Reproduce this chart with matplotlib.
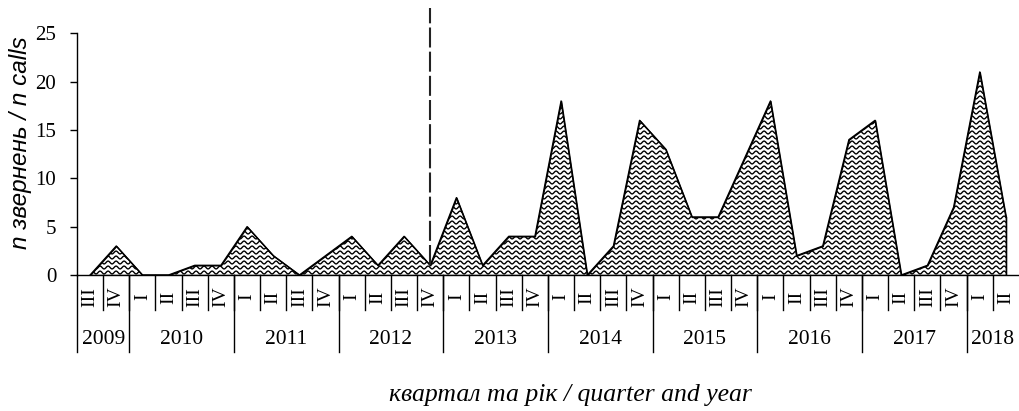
import matplotlib
matplotlib.use("Agg")
import matplotlib.pyplot as plt
import numpy as np
from matplotlib.collections import LineCollection
import matplotlib.transforms as mtransforms

# quarters 2009 III .. 2018 II
quarters = ['III', 'IV'] + ['I', 'II', 'III', 'IV'] * 8 + ['I', 'II']
years = ['2009', '2010', '2011', '2012', '2013', '2014', '2015', '2016', '2017', '2018']
year_counts = [2, 4, 4, 4, 4, 4, 4, 4, 4, 2]
calls = [0, 3,
         0, 0, 1, 1,
         5, 2, 0, 2,
         4, 1, 4, 1,
         8, 1, 4, 4,
         18, 0, 3, 16,
         13, 6, 6, 12,
         18, 2, 3, 14,
         16, 0, 1, 7,
         21, 6]
split_index = 13  # 2012 IV

plt.rcParams['font.family'] = ['Liberation Serif', 'DejaVu Serif']

fig = plt.figure(figsize=(10.2, 4.11), dpi=100)
ax = fig.add_axes([77 / 1020, 136 / 411, 942 / 1020, 241.7 / 411])

x = np.arange(len(calls))
ax.set_xlim(-0.5, len(calls) - 0.5)
ax.set_ylim(0, 25)

# area with black outline
poly = ax.fill_between(x, calls, 0, facecolor='white', edgecolor='black', linewidth=1.0, zorder=2)

# wavy hatch, clipped to the area
t0 = ax.transData.transform((0, 0))
t1 = ax.transData.transform((1, 1))
px_x = t1[0] - t0[0]
px_y = t1[1] - t0[1]
period, spacing, amp = 8.0, 5.0, 1.4
xs = np.linspace(-0.5, len(calls) - 0.5, 4000)
segs = []
for k in range(int(25 * px_y / spacing) + 2):
    y0 = (k * spacing + 2.5) / px_y
    ys = y0 + amp / px_y * np.sin(2 * np.pi * xs * px_x / period)
    segs.append(np.column_stack([xs, ys]))
lc = LineCollection(segs, colors='black', linewidths=1.0, zorder=3)
ax.add_collection(lc)
lc.set_clip_path(poly.get_paths()[0], ax.transData)
ax.plot(x, calls, color='black', linewidth=1.0, zorder=4)
ax.plot([x[-1], x[-1]], [0, calls[-1]], color='black', linewidth=1.0, zorder=4)

# dashed divider
ax.plot([split_index, split_index], [1, 27.6], color='#222222', linewidth=1.5,
        dashes=(9.6, 2), clip_on=False, zorder=5)

for s in ['top', 'right']:
    ax.spines[s].set_visible(False)
ax.spines['left'].set_linewidth(1.0)
ax.spines['bottom'].set_linewidth(1.0)

ax.set_yticks([0, 5, 10, 15, 20, 25])
ax.tick_params(axis='y', direction='out', length=5, width=1.0, pad=10, labelsize=15)
ax.set_xticks([])

# category table below axis
trans = mtransforms.blended_transform_factory(ax.transData, ax.transAxes)
qline = -35 / 241.7
yline = -77 / 241.7
for i in range(len(calls) - 1):
    ax.plot([i + 0.5, i + 0.5], [0, qline], color='black', linewidth=1.0,
            transform=trans, clip_on=False)
for i, q in enumerate(quarters):
    ax.text(i, -22 / 241.7, q, rotation=90, ha='center', va='center',
            fontsize=14, transform=trans)
start = 0
bounds = [-0.5]
for yr, n in zip(years, year_counts):
    ax.text(start + (n - 1) / 2, -64 / 241.7, yr, ha='center', va='center',
            fontsize=15.5, transform=trans)
    start += n
    bounds.append(start - 0.5)
for b in bounds[:-1]:
    ax.plot([b, b], [0, yline], color='black', linewidth=1.0,
            transform=trans, clip_on=False)

fig.text(21 / 1020, 1 - 143 / 411, 'n звернень / n calls', rotation=90,
         ha='center', va='center', fontsize=17.5, style='italic',
         family=['Liberation Sans', 'DejaVu Sans'])
fig.text(570 / 1020, 1 - 395 / 411, 'квартал та рік / quarter and year',
         ha='center', va='center', fontsize=18.5, style='italic')

fig.savefig('out.png', dpi=100)
